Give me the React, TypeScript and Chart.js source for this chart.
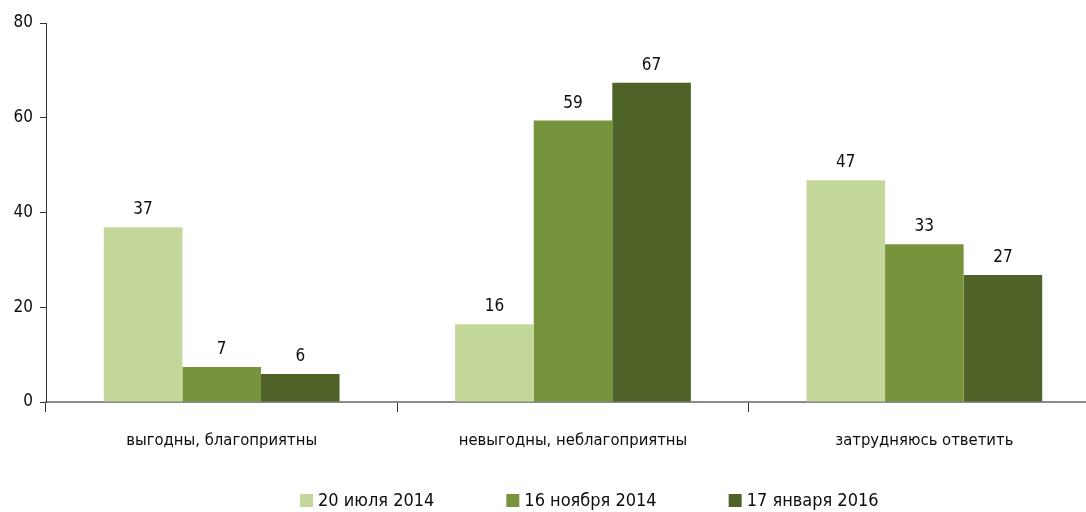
import React, { useEffect, useRef } from "react";
import { Chart, registerables } from "chart.js";

Chart.register(...registerables);

const categories = ["выгодны, благоприятны", "невыгодны, неблагоприятны", "затрудняюсь ответить"];
const seriesLabels = ["20 июля 2014", "16 ноября 2014", "17 января 2016"];
const july2014 = [36.9, 16.4, 46.8];
const nov2014 = [7.4, 59.4, 33.3];
const jan2016 = [5.9, 67.4, 26.8];
const seriesColors = ["#c4d79b", "#77933c", "#4f6228"];
const yTicks = [0, 20, 40, 60, 80];

const FONT = "'DejaVu Sans Condensed', 'Noto Sans', sans-serif";

const valueLabels = {
  id: "valueLabels",
  afterDatasetsDraw(chart: any) {
    const ctx = chart.ctx;
    ctx.save();
    ctx.font = `17px ${FONT}`;
    ctx.fillStyle = "#0d0d0d";
    ctx.textAlign = "center";
    ctx.textBaseline = "bottom";
    chart.data.datasets.forEach((ds: any, i: number) => {
      const meta = chart.getDatasetMeta(i);
      meta.data.forEach((bar: any, j: number) => {
        ctx.fillText(String(Math.round(ds.data[j])), bar.x, bar.y - 9);
      });
    });
    ctx.restore();
  },
};

const bottomLegend = {
  id: "bottomLegend",
  afterDraw(chart: any) {
    const ctx = chart.ctx;
    ctx.save();
    ctx.font = `18px ${FONT}`;
    ctx.textBaseline = "middle";
    ctx.textAlign = "left";
    let x = 300;
    const y = 500;
    chart.data.datasets.forEach((ds: any) => {
      ctx.fillStyle = ds.backgroundColor;
      ctx.fillRect(x, y - 6, 13, 13);
      ctx.fillStyle = "#0d0d0d";
      ctx.fillText(ds.label, x + 18, y + 1);
      x += 18 + ctx.measureText(ds.label).width + 72;
    });
    ctx.restore();
  },
};

export default function App() {
  const ref = useRef<HTMLCanvasElement>(null);
  useEffect(() => {
    if (!ref.current) return;
    const series = [july2014, nov2014, jan2016];
    const chart = new Chart(ref.current, {
      type: "bar",
      data: {
        labels: categories,
        datasets: series.map((d, i) => ({
          label: seriesLabels[i],
          data: d,
          backgroundColor: seriesColors[i],
          borderWidth: 0,
          categoryPercentage: 0.671,
          barPercentage: 1,
        })),
      },
      options: {
        responsive: false,
        animation: false,
        layout: { padding: { top: 23, left: 0, right: 0, bottom: 0 } },
        plugins: { legend: { display: false }, tooltip: { enabled: false } },
        scales: {
          x: {
            afterFit: (s: any) => {
              s.height = 110;
            },
            border: { display: true, color: "#8a8a8a", width: 2 },
            grid: {
              offset: true,
              drawOnChartArea: false,
              drawTicks: true,
              tickLength: 10,
              color: "#333",
            },
            ticks: {
              font: { family: FONT, size: 16.5 },
              color: "#0d0d0d",
              padding: 19,
            },
          },
          y: {
            min: 0,
            max: 80,
            afterFit: (s: any) => {
              s.width = 46;
            },
            afterBuildTicks: (s: any) => {
              s.ticks = yTicks.map((v) => ({ value: v }));
            },
            border: { display: true, color: "#333", width: 1 },
            grid: {
              drawOnChartArea: false,
              drawTicks: true,
              tickLength: 6,
              color: "#333",
            },
            ticks: {
              font: { family: FONT, size: 17 },
              color: "#0d0d0d",
              padding: 7,
            },
          },
        },
      },
      plugins: [valueLabels, bottomLegend],
    });
    return () => chart.destroy();
  }, []);
  return (
    <div style={{ position: "absolute", left: 0, top: 0, width: 1086, height: 512, overflow: "hidden", background: "#fff" }}>
      <canvas ref={ref} width={1100} height={512} style={{ display: "block" }} />
    </div>
  );
}
